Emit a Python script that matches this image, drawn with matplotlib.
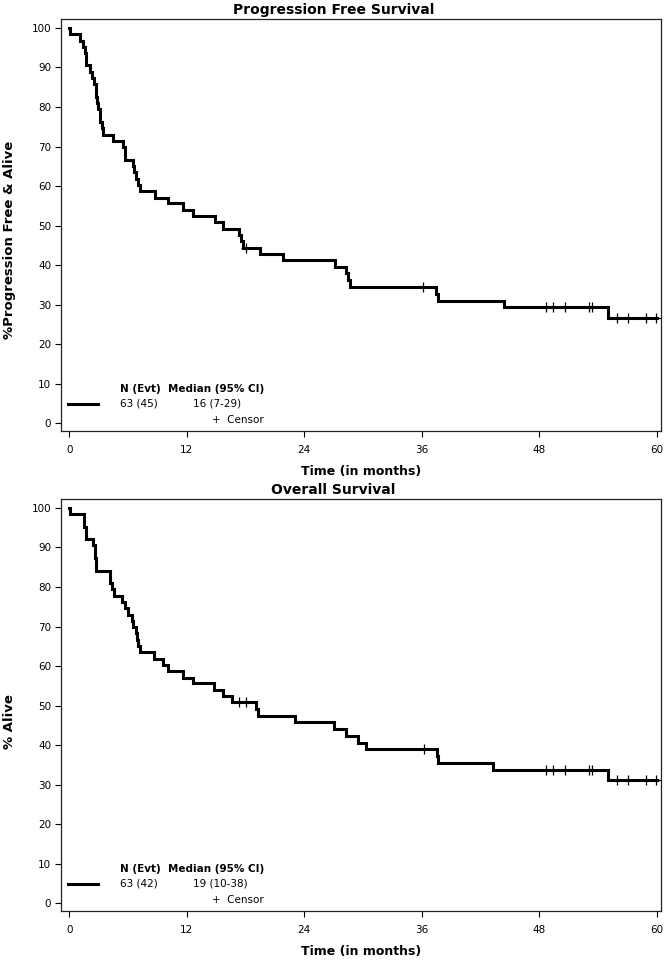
import matplotlib
matplotlib.use("Agg")
import matplotlib.pyplot as plt

# progression free survival (months, % after step)
pfs_time = [0, 0.1, 1.09, 1.43, 1.6, 1.67, 1.75, 2.11, 2.28, 2.56, 2.69, 2.72, 2.86, 2.9, 3.14, 3.18,
            3.37, 3.4, 4.5, 5.45, 5.69, 5.72, 6.47, 6.6, 6.8, 7.05, 7.22, 8.75, 10.1, 11.65, 12.67,
            14.9, 15.7, 17.3, 17.5, 17.75, 19.5, 21.8, 27.1, 28.3, 28.5, 28.7, 37.4, 37.6, 44.4, 55.0, 60.0]
pfs_surv = [100, 98.4, 96.8, 95.2, 93.7, 92.1, 90.5, 88.9, 87.3, 85.7, 84.1, 82.5, 81.0, 79.4, 77.8, 76.2,
            74.6, 73.0, 71.4, 69.8, 68.3, 66.7, 65.1, 63.5, 61.9, 60.3, 58.7, 57.1, 55.6, 54.0, 52.4,
            50.8, 49.2, 47.6, 46.0, 44.4, 42.9, 41.3, 39.6, 38.0, 36.3, 34.6, 32.8, 30.9, 29.4, 26.7, 26.7]
pfs_cens_time = [18.0, 36.15, 48.7, 49.4, 50.6, 53.1, 53.4, 55.9, 57.1, 58.9, 59.9]
pfs_cens_surv = [44.4, 34.6, 29.4, 29.4, 29.4, 29.4, 29.4, 26.7, 26.7, 26.7, 26.7]

# overall survival
os_time = [0, 0.07, 1.5, 1.52, 1.7, 1.72, 2.45, 2.62, 2.64, 2.73, 2.75, 4.16, 4.2, 4.33, 4.57, 5.35,
           5.69, 6.03, 6.37, 6.54, 6.81, 6.95, 6.97, 7.22, 8.6, 9.6, 10.1, 11.65, 12.67, 14.8, 15.7,
           16.6, 19.07, 19.3, 23.05, 27.0, 28.3, 29.5, 30.3, 37.5, 37.7, 43.25, 55.0, 60.0]
os_surv = [100, 98.4, 96.8, 95.2, 93.7, 92.1, 90.5, 88.9, 87.3, 85.7, 84.1, 82.5, 81.0, 79.4, 77.8, 76.2,
           74.6, 73.0, 71.4, 69.8, 68.3, 66.7, 65.1, 63.5, 61.9, 60.3, 58.7, 57.1, 55.6, 54.0, 52.4,
           50.8, 49.2, 47.3, 45.8, 44.1, 42.4, 40.6, 39.0, 37.2, 35.5, 33.6, 31.3, 31.3]
os_cens_time = [17.3, 18.05, 36.2, 48.7, 49.4, 50.6, 53.1, 53.4, 55.9, 57.1, 58.9, 59.9]
os_cens_surv = [50.8, 50.8, 39.0, 33.6, 33.6, 33.6, 33.6, 33.6, 31.3, 31.3, 31.3, 31.3]

x_ticks = [0, 12, 24, 36, 48, 60]
y_ticks = [0, 10, 20, 30, 40, 50, 60, 70, 80, 90, 100]

panels = [
    ("Progression Free Survival", "%Progression Free & Alive", pfs_time, pfs_surv,
     pfs_cens_time, pfs_cens_surv, "63 (45)", "16 (7-29)"),
    ("Overall Survival", "% Alive", os_time, os_surv,
     os_cens_time, os_cens_surv, "63 (42)", "19 (10-38)"),
]

plt.rcParams['font.family'] = ['DejaVu Sans']
fig = plt.figure(figsize=(6.67, 9.6), dpi=100)

# axes box, title y, ylabel y (figure fractions)
layout = [
    ([0.0915, 0.551, 0.8996, 0.429], 1 - 10 / 960, 1 - 240 / 960),
    ([0.0915, 0.051, 0.8996, 0.429], 1 - 490 / 960, 1 - 722 / 960),
]


def draw_panel(ax, title, ylabel, t, s, ct, cs, n_evt, median, title_y, ylab_y):
    ax.step(t, s, where='post', color='black', lw=2.2, solid_joinstyle='miter')
    ax.plot(ct, cs, ls='none', marker='+', ms=7, mew=0.9, color='black')

    ax.set_xlim(-0.85, 60.43)
    ax.set_ylim(-1.95, 102.2)
    ax.set_xticks(x_ticks)
    ax.set_yticks(y_ticks)
    ax.tick_params(direction='out', length=4, width=0.8, labelsize=7.5, pad=3)
    ax.tick_params(axis='x', pad=6)
    for sp in ax.spines.values():
        sp.set_linewidth(0.9)
        sp.set_color('#222222')

    # SAS centres the title and y label on the whole graph area
    fig.text(0.5, title_y, title, fontsize=10, fontweight='bold', ha='center', va='center')
    fig.text(10 / 667, ylab_y, ylabel, fontsize=9.5, fontweight='bold', rotation=90,
             ha='center', va='center')
    ax.set_xlabel("Time (in months)", fontsize=9, fontweight='bold', labelpad=7)

    # legend block
    tr = ax.transAxes
    ax.text(0.098, 0.101, "N (Evt)", transform=tr, fontsize=7.5, fontweight='bold', va='center')
    ax.text(0.178, 0.101, "Median (95% CI)", transform=tr, fontsize=7.5, fontweight='bold', va='center')
    ax.plot([0.0122, 0.0622], [0.066, 0.066], transform=tr, color='black', lw=2.2)
    ax.text(0.098, 0.066, n_evt, transform=tr, fontsize=7.5, va='center')
    ax.text(0.2205, 0.066, median, transform=tr, fontsize=7.5, va='center')
    ax.text(0.251, 0.027, "+  Censor", transform=tr, fontsize=7.5, va='center')


for (box, ty, ly), p in zip(layout, panels):
    ax = fig.add_axes(box)
    draw_panel(ax, *p, ty, ly)

fig.savefig("out.png", dpi=100)
